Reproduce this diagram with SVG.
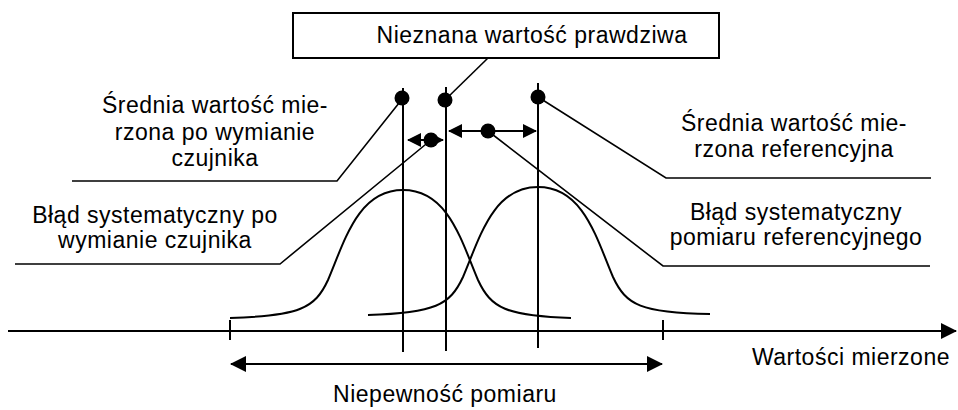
<svg xmlns="http://www.w3.org/2000/svg" width="958" height="410" viewBox="0 0 958 410">
<style>
text{font-family:"Liberation Sans",Arial,sans-serif;font-size:23px;letter-spacing:0.5px;fill:#000;text-anchor:middle}
.ln{stroke:#000;stroke-width:2;fill:none}
.ld{stroke:#000;stroke-width:1.6;fill:none}
.dot{fill:#000}
</style>
<defs>
<marker id="ah" markerUnits="userSpaceOnUse" markerWidth="14" markerHeight="14" refX="13" refY="7" orient="auto-start-reverse"><path d="M0,0 L14,7 L0,14 z" fill="#000"/></marker>
<marker id="ab" markerUnits="userSpaceOnUse" markerWidth="16" markerHeight="16" refX="15" refY="8" orient="auto-start-reverse"><path d="M0,0 L16,8 L0,16 z" fill="#000"/></marker>
</defs>
<rect width="958" height="410" fill="#fff"/>
<g id="axis">
<line class="ln" x1="8" y1="331" x2="956" y2="331" marker-end="url(#ab)"/>
<line class="ln" x1="230" y1="320" x2="230" y2="340"/>
<line class="ln" x1="663" y1="320" x2="663" y2="340"/>
<text x="950" y="365" style="text-anchor:end">Wartości mierzone</text>
</g>
<g id="bell-left"><path class="ln" d="M230,318 C300,316 315,308 328,280 C345,240 358,190 403,190 C448,190 461,240 478,280 C491,308 506,316 571,318"/></g>
<g id="bell-right"><path class="ln" d="M368,315 C435,313 450,305 463,277 C480,237 493,187 538,187 C583,187 596,237 613,277 C626,305 641,313 710,314"/></g>
<g id="lines">
<line class="ln" x1="403" y1="88" x2="403" y2="352"/>
<line class="ln" x1="446" y1="87" x2="446" y2="351"/>
<line class="ln" x1="538" y1="83" x2="538" y2="348"/>
</g>
<g id="true-value">
<rect x="293" y="13" width="426" height="45" fill="#fff" stroke="#000" stroke-width="2"/>
<text x="532" y="43">Nieznana wartość prawdziwa</text>
</g>
<g id="connectors">
<polyline class="ld" points="488,58 446,99"/>
<polyline class="ld" points="403,98 337,181 72,181"/>
<polyline class="ld" points="431,140 280,264 15,264"/>
<polyline class="ld" points="538,97 666,178 931,178"/>
<polyline class="ld" points="488,131 663,266 930,266"/>
<line class="ln" x1="408" y1="140" x2="443" y2="140" marker-start="url(#ah)" marker-end="url(#ah)"/>
<line class="ln" x1="449" y1="131" x2="536" y2="131" marker-start="url(#ah)" marker-end="url(#ah)"/>
<line class="ln" x1="231" y1="364" x2="662" y2="364" marker-start="url(#ab)" marker-end="url(#ab)"/>
</g>
<g id="dots">
<circle class="dot" cx="402" cy="98" r="7.5"/>
<circle class="dot" cx="445" cy="100" r="7.5"/>
<circle class="dot" cx="538" cy="97" r="7.5"/>
<circle class="dot" cx="431" cy="140" r="7.5"/>
<circle class="dot" cx="488" cy="131" r="7.5"/>
</g>
<g id="label-mean-after">
<text x="215" y="113">Średnia wartość mie-</text>
<text x="215" y="140">rzona po wymianie</text>
<text x="215" y="166">czujnika</text>
</g>
<g id="label-mean-ref">
<text x="794" y="131">Średnia wartość mie-</text>
<text x="794" y="157">rzona referencyjna</text>
</g>
<g id="label-bias-after">
<text x="155" y="223">Błąd systematyczny po</text>
<text x="155" y="248">wymianie czujnika</text>
</g>
<g id="label-bias-ref">
<text x="796" y="220">Błąd systematyczny</text>
<text x="796" y="245">pomiaru referencyjnego</text>
</g>
<g id="label-uncertainty">
<text x="445" y="402">Niepewność pomiaru</text>
</g>
</svg>
